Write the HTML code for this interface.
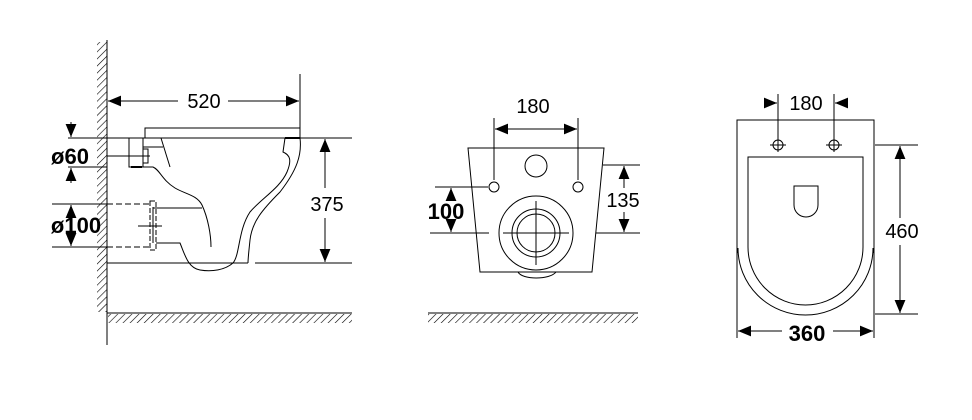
<!DOCTYPE html>
<html><head><meta charset="utf-8"><style>
html,body{margin:0;padding:0;background:#fff;}
svg{display:block;}
text{font-family:"Liberation Sans",Arial,sans-serif;font-size:20px;fill:#000;}
.b{font-weight:bold;font-size:22px;}
</style></head><body>
<svg width="972" height="420" viewBox="0 0 972 420" xmlns="http://www.w3.org/2000/svg">
<defs>
<pattern id="h" width="5" height="5" patternUnits="userSpaceOnUse" patternTransform="rotate(45)">
<line x1="0" y1="0" x2="0" y2="5" stroke="#000" stroke-width="1.2"/>
</pattern>
<marker id="a" viewBox="0 0 12 10" refX="12" refY="5" markerWidth="13" markerHeight="11" markerUnits="userSpaceOnUse" orient="auto-start-reverse">
<path d="M0,0 L12,5 L0,10 z" fill="#000"/>
</marker>
</defs>
<g stroke="#000" stroke-width="1" fill="none">
<!-- LEFT VIEW -->
<rect x="97" y="42" width="10" height="270" fill="url(#h)" stroke="none"/>
<line x1="107" y1="40" x2="107" y2="345"/>
<rect x="108" y="314" width="244" height="9" fill="url(#h)" stroke="none"/>
<line x1="107" y1="313" x2="352" y2="313"/>
<line x1="300" y1="74" x2="300" y2="138"/>
<line x1="108" y1="101" x2="178" y2="101" marker-start="url(#a)"/>
<line x1="228" y1="101" x2="299" y2="101" marker-end="url(#a)"/>
<polyline points="145,138 145,128 300,128"/>
<line x1="107" y1="138" x2="352" y2="138"/>
<line x1="68" y1="138" x2="107" y2="138"/>
<line x1="68" y1="167" x2="107" y2="167"/>
<line x1="107" y1="263" x2="248" y2="263"/>
<line x1="255" y1="263" x2="352" y2="263"/>
<line x1="325" y1="139" x2="325" y2="188" marker-start="url(#a)"/>
<line x1="325" y1="218" x2="325" y2="262" marker-end="url(#a)"/>
<line x1="71" y1="122" x2="71" y2="137" marker-end="url(#a)"/>
<line x1="71" y1="183" x2="71" y2="168" marker-end="url(#a)"/>
<line x1="52" y1="204" x2="107" y2="204"/>
<line x1="52" y1="247" x2="107" y2="247"/>
<line x1="107" y1="204" x2="150" y2="204" stroke-dasharray="6,3"/>
<line x1="107" y1="247" x2="150" y2="247" stroke-dasharray="6,3"/>
<line x1="71" y1="214" x2="71" y2="205" marker-end="url(#a)"/>
<line x1="71" y1="237" x2="71" y2="246" marker-end="url(#a)"/>
<rect x="129" y="138" width="14" height="29"/>
<rect x="143" y="149" width="5" height="14"/>
<line x1="131" y1="167" x2="142" y2="167" stroke-width="2"/>
<line x1="107" y1="156" x2="150" y2="156"/>
<line x1="143" y1="147" x2="163" y2="147"/>
<line x1="161" y1="138" x2="170" y2="167"/>
<path d="M143,167 L153,167 C160,170 162,180 175,188 C185,194 197,195 202,205 C208,218 211,235 211,247"/>
<rect x="150" y="201" width="6" height="49" stroke-dasharray="5,2"/>
<line x1="153" y1="207" x2="153" y2="243"/>
<line x1="138" y1="226" x2="162" y2="226"/>
<polyline points="153,208 202,208"/>
<path d="M156,243 L180,243 C185,255 188,268 200,270 C212,272 225,270 233,263 C240,255 238,230 250,212 C262,198 280,188 287,172 C292,160 290,155 283,152 L285,138"/>
<path d="M300,138 C302,155 297,170 280,192 C262,210 252,222 250,240 C249,250 248,258 248,263"/>
<line x1="285" y1="138" x2="300" y2="138" stroke-width="2"/>
<!-- MIDDLE VIEW -->
<polygon points="468,148 604,148 592,272 480,272"/>
<circle cx="536" cy="166" r="11"/>
<circle cx="494" cy="187" r="5"/>
<circle cx="578" cy="187" r="5"/>
<circle cx="536" cy="233" r="37"/>
<circle cx="536" cy="233" r="24"/>
<circle cx="536" cy="233" r="19"/>
<line x1="536" y1="201" x2="536" y2="265"/>
<line x1="503" y1="233" x2="569" y2="233"/>
<path d="M518,272 C522,280 550,280 556,272"/>
<line x1="494" y1="118" x2="494" y2="180"/>
<line x1="578" y1="118" x2="578" y2="180"/>
<line x1="495" y1="129" x2="577" y2="129" marker-start="url(#a)" marker-end="url(#a)"/>
<line x1="435" y1="187" x2="488" y2="187"/>
<line x1="430" y1="233" x2="489" y2="233"/>
<line x1="451" y1="200" x2="451" y2="188" marker-end="url(#a)"/>
<line x1="451" y1="220" x2="451" y2="232" marker-end="url(#a)"/>
<line x1="603" y1="165" x2="640" y2="165"/>
<line x1="596" y1="233" x2="640" y2="233"/>
<line x1="624" y1="166" x2="624" y2="188" marker-start="url(#a)"/>
<line x1="624" y1="212" x2="624" y2="232" marker-end="url(#a)"/>
<rect x="428" y="314" width="210" height="9" fill="url(#h)" stroke="none"/>
<line x1="428" y1="313" x2="638" y2="313"/>
<!-- RIGHT VIEW -->
<polyline points="737,338 737,120 874,120 874,338"/>
<path d="M738,253 L738,248 A67.5,67 0 0 0 873,248 L873,253" />
<path d="M748,157 L863,157 L863,247 A57.5,58 0 0 1 748,247 Z"/>
<path d="M794,186 L818,186 L818,205 A12,12 0 0 1 794,205 Z"/>
<line x1="778" y1="94" x2="778" y2="152"/>
<line x1="834" y1="94" x2="834" y2="152"/>
<circle cx="778" cy="145" r="5"/>
<circle cx="834" cy="145" r="5"/>
<line x1="770" y1="145" x2="786" y2="145"/>
<line x1="826" y1="145" x2="842" y2="145"/>
<line x1="764" y1="103" x2="777" y2="103" marker-end="url(#a)"/>
<line x1="848" y1="103" x2="835" y2="103" marker-end="url(#a)"/>
<line x1="875" y1="145" x2="918" y2="145"/>
<line x1="875" y1="314" x2="918" y2="314"/>
<line x1="900" y1="146" x2="900" y2="218" marker-start="url(#a)"/>
<line x1="900" y1="245" x2="900" y2="313" marker-end="url(#a)"/>
<line x1="738" y1="331" x2="782" y2="331" marker-start="url(#a)"/>
<line x1="833" y1="331" x2="873" y2="331" marker-end="url(#a)"/>
</g>
<text x="204" y="108" text-anchor="middle">520</text>
<text x="327" y="211" text-anchor="middle">375</text>
<text x="70" y="164" text-anchor="middle" class="b">ø60</text>
<text x="76" y="233" text-anchor="middle" class="b">ø100</text>
<text x="533" y="113" text-anchor="middle">180</text>
<text x="446" y="219" text-anchor="middle" class="b">100</text>
<text x="623" y="207" text-anchor="middle">135</text>
<text x="806" y="110" text-anchor="middle">180</text>
<text x="902" y="238" text-anchor="middle">460</text>
<text x="807" y="341" text-anchor="middle" class="b">360</text>
</svg>
</body></html>
